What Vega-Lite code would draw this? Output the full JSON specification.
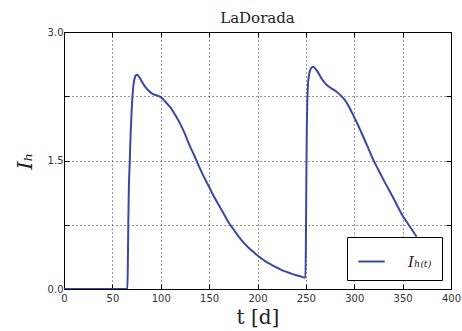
{
  "$schema": "https://vega.github.io/schema/vega-lite/v6.json",
  "autosize": {"type": "none"},
  "padding": {"left": 64, "top": 32, "right": 11, "bottom": 42},
  "width": 387,
  "height": 257,
  "background": "white",
  "title": {"text": "LaDorada", "font": "DejaVu Serif", "fontSize": 15, "fontWeight": "normal", "color": "#222", "offset": 1, "anchor": "middle"},
  "config": {
    "view": {"stroke": "black", "strokeWidth": 1},
    "axis": {"domain": false, "tickColor": "black", "tickSize": -5, "labelFont": "DejaVu Sans", "labelFontSize": 10, "labelColor": "#333", "labelFlush": false, "gridColor": "black", "gridDash": [1, 3], "gridOpacity": 0.8, "gridWidth": 1}
  },
  "data": {"values": [
    {"t": 0, "I": 0}, {"t": 65.5, "I": 0}, {"t": 66, "I": 0.3}, {"t": 66.5, "I": 0.8}, {"t": 67, "I": 1.15},
    {"t": 68, "I": 1.5}, {"t": 69, "I": 1.85}, {"t": 70, "I": 2.1}, {"t": 71, "I": 2.28}, {"t": 72, "I": 2.4},
    {"t": 73, "I": 2.46}, {"t": 74, "I": 2.49}, {"t": 75.5, "I": 2.5}, {"t": 78, "I": 2.47}, {"t": 81, "I": 2.41},
    {"t": 84, "I": 2.36}, {"t": 87, "I": 2.32}, {"t": 90, "I": 2.29}, {"t": 93, "I": 2.27}, {"t": 96, "I": 2.26},
    {"t": 99, "I": 2.245}, {"t": 102, "I": 2.22}, {"t": 106, "I": 2.17}, {"t": 110, "I": 2.12}, {"t": 115, "I": 2.03},
    {"t": 120, "I": 1.93}, {"t": 125, "I": 1.81}, {"t": 130, "I": 1.67}, {"t": 135, "I": 1.55}, {"t": 140, "I": 1.42},
    {"t": 145, "I": 1.3}, {"t": 150, "I": 1.19}, {"t": 155, "I": 1.08}, {"t": 160, "I": 0.98}, {"t": 165, "I": 0.88},
    {"t": 170, "I": 0.78}, {"t": 175, "I": 0.7}, {"t": 180, "I": 0.62}, {"t": 185, "I": 0.55}, {"t": 190, "I": 0.49},
    {"t": 195, "I": 0.44}, {"t": 200, "I": 0.39}, {"t": 205, "I": 0.35}, {"t": 210, "I": 0.31}, {"t": 215, "I": 0.28},
    {"t": 220, "I": 0.25}, {"t": 225, "I": 0.22}, {"t": 230, "I": 0.2}, {"t": 235, "I": 0.18}, {"t": 240, "I": 0.16},
    {"t": 245, "I": 0.145}, {"t": 249.5, "I": 0.13}, {"t": 250, "I": 0.5}, {"t": 250.5, "I": 1.3}, {"t": 251, "I": 1.9},
    {"t": 251.5, "I": 2.2}, {"t": 252, "I": 2.35}, {"t": 253, "I": 2.48}, {"t": 254, "I": 2.54}, {"t": 255.5, "I": 2.58},
    {"t": 257.5, "I": 2.595}, {"t": 260, "I": 2.57}, {"t": 263, "I": 2.52}, {"t": 266, "I": 2.46}, {"t": 270, "I": 2.4},
    {"t": 274, "I": 2.36}, {"t": 278, "I": 2.33}, {"t": 282, "I": 2.3}, {"t": 286, "I": 2.26}, {"t": 290, "I": 2.21},
    {"t": 294, "I": 2.14}, {"t": 298, "I": 2.05}, {"t": 302, "I": 1.96}, {"t": 306, "I": 1.86}, {"t": 310, "I": 1.76},
    {"t": 315, "I": 1.63}, {"t": 320, "I": 1.5}, {"t": 325, "I": 1.39}, {"t": 330, "I": 1.28}, {"t": 335, "I": 1.175},
    {"t": 340, "I": 1.07}, {"t": 345, "I": 0.96}, {"t": 350, "I": 0.855}, {"t": 355, "I": 0.77}, {"t": 360, "I": 0.685},
    {"t": 364.5, "I": 0.61}
  ]},
  "layer": [
    {
      "mark": {"type": "line", "strokeWidth": 2, "interpolate": "monotone", "clip": true},
      "encoding": {
        "x": {"field": "t", "type": "quantitative", "scale": {"domain": [0, 400], "nice": false, "zero": false},
              "axis": {"orient": "bottom", "values": [0, 50, 100, 150, 200, 250, 300, 350, 400], "grid": true, "labelPadding": 9,
                       "title": "t [d]", "titleFont": "DejaVu Serif", "titleFontSize": 20, "titleFontWeight": "normal", "titleColor": "#222", "titlePadding": 4}},
        "y": {"field": "I", "type": "quantitative", "scale": {"domain": [0, 3], "nice": false},
              "axis": {"orient": "left", "values": [0, 0.75, 1.5, 2.25, 3], "grid": true, "labelPadding": 6,
                       "labelExpr": "datum.value % 1.5 == 0 ? format(datum.value, '.1f') : ''",
                       "title": "Iₕ", "titleFont": "DejaVu Serif", "titleFontStyle": "italic", "titleFontSize": 21, "titleFontWeight": "normal", "titleColor": "#222", "titlePadding": 12}},
        "color": {"datum": "Iₕ₍ₜ₎", "type": "nominal", "scale": {"range": ["#3949a3"]},
                  "legend": {"title": null, "orient": "bottom-right", "offset": 9, "symbolType": "stroke", "symbolSize": 700, "symbolStrokeWidth": 2,
                             "labelFont": "DejaVu Serif", "labelFontStyle": "italic", "labelFontSize": 15, "labelColor": "#222", "labelOffset": 22,
                             "strokeColor": "black", "fillColor": "white", "padding": 10, "cornerRadius": 0}}
      }
    },
    {
      "mark": {"type": "line", "opacity": 0},
      "encoding": {
        "x": {"field": "t", "type": "quantitative", "scale": {"domain": [0, 400], "nice": false, "zero": false},
              "axis": {"orient": "top", "values": [0, 50, 100, 150, 200, 250, 300, 350, 400], "labels": false, "grid": false, "title": null}},
        "y": {"field": "I", "type": "quantitative", "scale": {"domain": [0, 3], "nice": false},
              "axis": {"orient": "right", "values": [0, 0.75, 1.5, 2.25, 3], "labels": false, "grid": false, "title": null}}
      }
    }
  ],
  "resolve": {"axis": {"x": "independent", "y": "independent"}}
}
